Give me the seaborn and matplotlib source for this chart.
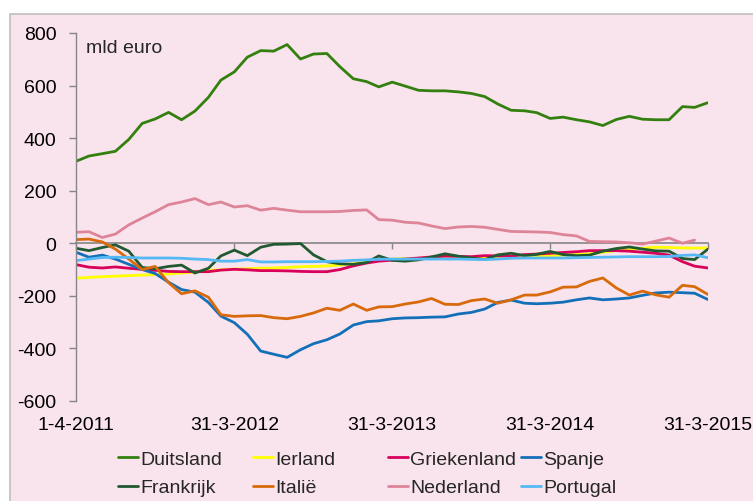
import numpy as np
import pandas as pd
import matplotlib
matplotlib.use("Agg")
import matplotlib.pyplot as plt
from matplotlib.lines import Line2D
from matplotlib.patches import Rectangle
import seaborn as sns

# maandelijkse standen (mld euro), april 2011 t/m maart 2015
datums = pd.date_range("2011-03-31", periods=49, freq="ME")

duitsland = [312, 332, 341, 350, 395, 456, 473, 498, 470, 503, 555, 621, 652, 708, 733, 731, 756,
             701, 720, 722, 672, 626, 615, 595, 613, 598, 582, 580, 580, 576, 570, 558, 530, 506,
             504, 497, 475, 480, 470, 462, 448, 471, 483, 472, 470, 470, 520, 517, 535]
ierland = [-133, -130, -127, -125, -123, -121, -119, -117, -113, -109, -103, -101, -98, -97, -95,
           -94, -92, -89, -88, -86, -83, -78, -70, -64, -60, -58, -57, -56, -54, -53, -53, -53, -50,
           -48, -47, -47, -47, -45, -43, -40, -34, -28, -24, -19, -15, -16, -18, -18, -18]
griekenland = [-81, -91, -94, -90, -95, -99, -103, -107, -108, -108, -108, -102, -99, -101, -104,
               -104, -105, -107, -108, -108, -100, -86, -75, -68, -64, -60, -56, -52, -49, -50, -51,
               -47, -48, -49, -43, -41, -38, -35, -32, -28, -28, -28, -30, -34, -38, -45, -70, -87, -94]
spanje = [-34, -53, -45, -60, -80, -100, -115, -148, -176, -186, -225, -277, -302, -346, -410, -422,
          -434, -405, -382, -367, -345, -311, -298, -295, -287, -284, -283, -281, -280, -269, -263,
          -250, -225, -216, -228, -230, -228, -224, -215, -208, -215, -212, -208, -198, -189, -186,
          -188, -190, -214]
frankrijk = [-19, -28, -16, -6, -30, -92, -97, -88, -83, -113, -95, -48, -26, -47, -15, -4, -3, -1,
             -44, -70, -78, -80, -73, -48, -65, -68, -63, -52, -40, -49, -56, -62, -44, -38, -47, -42,
             -31, -43, -47, -45, -30, -20, -14, -22, -29, -30, -58, -62, -22]
italie = [14, 16, 5, -22, -60, -100, -88, -150, -192, -181, -205, -272, -278, -276, -275, -283, -287,
          -278, -265, -247, -255, -231, -255, -242, -241, -231, -223, -210, -232, -233, -218, -212,
          -228, -215, -197, -197, -185, -167, -166, -145, -132, -170, -197, -182, -196, -205, -160,
          -165, -195]
nederland = [42, 44, 22, 35, 70, 96, 120, 147, 157, 170, 147, 157, 138, 143, 126, 133, 126, 120, 120,
             120, 121, 125, 127, 90, 88, 80, 77, 66, 56, 62, 64, 61, 53, 45, 44, 43, 41, 33, 28, 7, 6,
             5, 2, -3, 8, 20, 0, 12, np.nan]
portugal = [-66, -60, -54, -53, -54, -56, -56, -56, -57, -60, -62, -68, -68, -62, -71, -71, -70, -70,
            -70, -69, -68, -65, -63, -61, -60, -60, -60, -60, -60, -60, -61, -62, -60, -57, -56, -56,
            -56, -56, -55, -54, -53, -52, -51, -51, -51, -50, -46, -44, -55]

landen = ["Duitsland", "Ierland", "Griekenland", "Spanje", "Frankrijk", "Italië", "Nederland", "Portugal"]
reeksen = [duitsland, ierland, griekenland, spanje, frankrijk, italie, nederland, portugal]
kleuren = ["#33800F", "#FFFF00", "#D9005B", "#1370B8", "#215A32", "#D86A0C", "#DE8499", "#55B9F5"]

tick_datums = pd.to_datetime(["2011-03-31", "2012-03-31", "2013-03-31", "2014-03-31", "2015-03-31"])
tick_labels = ["1-4-2011", "31-3-2012", "31-3-2013", "31-3-2014", "31-3-2015"]

frames = []
for naam, waarden in zip(landen, reeksen):
    frames.append(pd.DataFrame({"datum": datums, "waarde": waarden, "land": naam}))
df = pd.concat(frames, ignore_index=True)

sns.set_theme(style="white")
plt.rcParams["font.family"] = ["Liberation Sans", "DejaVu Sans"]
plt.rcParams["axes.unicode_minus"] = False

W, H = 753, 502
fs = 14
fig = plt.figure(figsize=(W / 100, H / 100), dpi=100)
fig.patch.set_facecolor("white")
fig.add_artist(Rectangle((10 / W, -0.01), 1.0, 1 - 15 / H + 0.01, transform=fig.transFigure,
                         facecolor="#F9E3EC", edgecolor="#BFBFBF", lw=1.2, zorder=-10))

ax = fig.add_axes([76 / W, 1 - 402 / H, (708 - 76) / W, (402 - 34) / H])
ax.set_facecolor("none")

sns.lineplot(data=df, x="datum", y="waarde", hue="land", hue_order=landen,
             palette=dict(zip(landen, kleuren)), estimator=None, linewidth=2.0,
             legend=False, ax=ax)

ax.set_xlim(datums[0], datums[-1])
ax.set_ylim(-600, 800)
ax.set_yticks(range(-600, 801, 200))
ax.set_xticks(tick_datums)
ax.set_xticklabels(tick_labels)
ax.set_xlabel("")
ax.set_ylabel("")

grijs = "#868686"
for s in ["top", "right", "bottom"]:
    ax.spines[s].set_visible(False)
ax.spines["left"].set_color(grijs)
ax.spines["left"].set_linewidth(1)
ax.tick_params(axis="y", direction="out", length=5, width=1, color=grijs, pad=9,
               labelsize=fs, labelcolor="black", left=True)
ax.tick_params(axis="x", length=0, pad=11, labelsize=fs, labelcolor="black")

# horizontale as op nul met kleine streepjes
nul = ax.secondary_xaxis(600 / 1400)
nul.set_xticks(tick_datums)
nul.set_xticklabels([])
nul.spines["bottom"].set_color(grijs)
nul.spines["bottom"].set_linewidth(1.2)
nul.tick_params(axis="x", direction="out", length=4, width=1, color=grijs)

ax.text(0.016, 0.985, "mld euro", transform=ax.transAxes, fontsize=fs, va="top", ha="left")

# legenda: vier kolommen van twee
kolommen = [(0, 4), (1, 5), (2, 6), (3, 7)]
kol_x = [118, 253, 388, 521]
for (a, b), xp in zip(kolommen, kol_x):
    handles = [Line2D([], [], color=kleuren[i], lw=2) for i in (a, b)]
    leg = fig.legend(handles, [landen[a], landen[b]], loc="upper left",
                     bbox_to_anchor=(xp / W, 1 - 451 / H), bbox_transform=fig.transFigure,
                     frameon=False, fontsize=fs, handlelength=1.05, handletextpad=0.1,
                     borderpad=0, borderaxespad=0, labelspacing=0.58)

fig.savefig("out.png", dpi=100)
